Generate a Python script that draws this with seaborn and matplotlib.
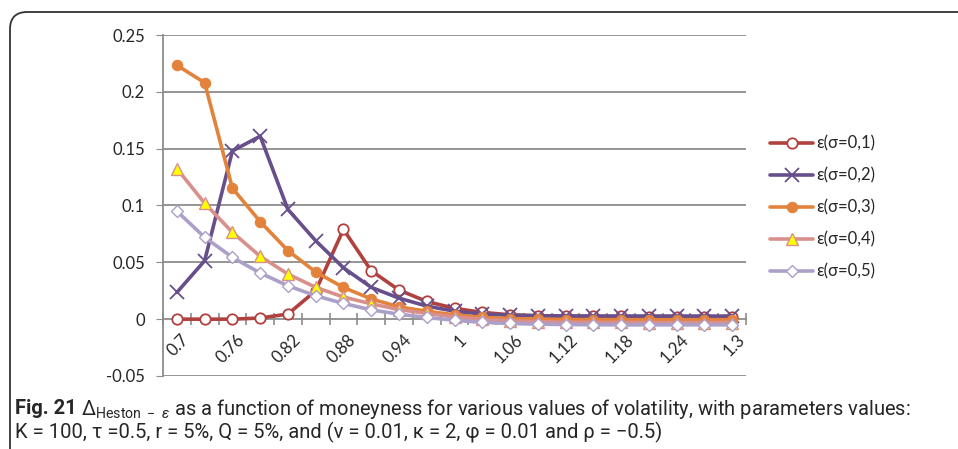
import numpy as np
import pandas as pd
import matplotlib
matplotlib.use("Agg")
import matplotlib.pyplot as plt
import matplotlib.transforms as mtransforms
from matplotlib.patches import FancyBboxPatch
import seaborn as sns

# moneyness categories (21 points, every other one labelled)
moneyness = ["0.7", "0.73", "0.76", "0.79", "0.82", "0.85", "0.88", "0.91", "0.94", "0.97", "1",
             "1.03", "1.06", "1.09", "1.12", "1.15", "1.18", "1.21", "1.24", "1.27", "1.3"]

eps_s01 = [0.0, 0.0, 0.0, 0.001, 0.0045, 0.025, 0.079, 0.0426, 0.0256, 0.0156, 0.0095,
           0.006, 0.0038, 0.003, 0.0027, 0.0025, 0.0024, 0.0023, 0.0023, 0.0022, 0.0022]
eps_s02 = [0.0235, 0.0514, 0.148, 0.161, 0.0965, 0.069, 0.0452, 0.028, 0.0185, 0.0115, 0.007,
           0.0045, 0.0035, 0.003, 0.0028, 0.0027, 0.0027, 0.0027, 0.0027, 0.0027, 0.0027]
eps_s03 = [0.2234, 0.208, 0.1152, 0.0858, 0.0603, 0.0415, 0.0279, 0.0178, 0.0108, 0.007, 0.0038,
           0.0015, 0.0005, 0.0, -0.0003, -0.0004, -0.0005, -0.0005, -0.0005, -0.0005, -0.0005]
eps_s04 = [0.1325, 0.102, 0.0764, 0.0553, 0.0397, 0.028, 0.0195, 0.0135, 0.0085, 0.005, 0.002,
           -0.0002, -0.0015, -0.0022, -0.0026, -0.0028, -0.0029, -0.003, -0.003, -0.003, -0.003]
eps_s05 = [0.095, 0.072, 0.0544, 0.0406, 0.0294, 0.0206, 0.0138, 0.0082, 0.0044, 0.0015, -0.001,
           -0.0028, -0.0038, -0.0044, -0.0047, -0.0049, -0.005, -0.005, -0.005, -0.005, -0.005]

series_names = ["ε(σ=0,1)", "ε(σ=0,2)", "ε(σ=0,3)", "ε(σ=0,4)", "ε(σ=0,5)"]
ytick_vals = [-0.05, 0, 0.05, 0.1, 0.15, 0.2, 0.25]
ytick_labels = ["-0.05", "0", "0.05", "0.1", "0.15", "0.2", "0.25"]

sns.set_style("white")
plt.rcParams["font.family"] = ["Lato", "DejaVu Sans"]

fig = plt.figure(figsize=(9.58, 4.49), dpi=100)
ax = fig.add_axes([163 / 958, 1 - 376 / 449, (746 - 163) / 958, (376 - 35) / 449])

idx = np.arange(len(moneyness))
styles = [
    dict(color="#B0413E", marker="o", markerfacecolor="white", markeredgecolor="#B0413E",
         markersize=7.5, markeredgewidth=1.3),
    dict(color="#674F8C", marker="x", markeredgecolor="#674F8C", markersize=10, markeredgewidth=1.3),
    dict(color="#E3823A", marker="o", markerfacecolor="#E3823A", markeredgecolor="#E3823A",
         markersize=7.5),
    dict(color="#D9908C", marker="^", markerfacecolor="#FFFF00", markeredgecolor="#D9908C",
         markersize=8.5, markeredgewidth=1.0),
    dict(color="#ADA0C8", marker="D", markerfacecolor="white", markeredgecolor="#ADA0C8",
         markersize=6, markeredgewidth=1.0),
]
all_series = [eps_s01, eps_s02, eps_s03, eps_s04, eps_s05]
for name, vals, st in zip(series_names, all_series, styles):
    sns.lineplot(x=idx, y=vals, ax=ax, label=name, linewidth=2.6, **st)

ax.set_xlim(-0.5, len(moneyness) - 0.5)
ax.set_ylim(-0.05, 0.25)
ax.set_yticks(ytick_vals)
ax.set_yticklabels(ytick_labels, fontsize=12)
for v in ytick_vals:
    if v != 0:
        ax.axhline(v, color="#8C8C8C", lw=1.3, zorder=0)

for s in ["top", "right"]:
    ax.spines[s].set_visible(False)
ax.spines["left"].set_color("#8C8C8C")
ax.spines["left"].set_linewidth(1.3)
ax.spines["bottom"].set_position(("data", 0))
ax.spines["bottom"].set_color("#8C8C8C")
ax.spines["bottom"].set_linewidth(1.3)
ax.spines["bottom"].set_zorder(0.5)
ax.tick_params(axis="y", direction="out", length=5, color="#8C8C8C", pad=8, left=True)

ax.set_xticks(idx[::2])
ax.set_xticklabels(moneyness[::2], fontsize=12, rotation=45, ha="right", va="top",
                   rotation_mode="anchor")
ax.set_xticks(np.arange(-0.5, len(moneyness), 1), minor=True)
ax.tick_params(axis="x", which="major", length=0, pad=9, bottom=True)
ax.tick_params(axis="x", which="minor", direction="inout", length=8, color="#8C8C8C",
               width=1.2, bottom=True)
offset = mtransforms.ScaledTranslation(3 / 72, 0, fig.dpi_scale_trans)
for lab in ax.get_xticklabels():
    lab.set_transform(lab.get_transform() + offset)
ax.set_xlabel("")
ax.set_ylabel("")

leg = ax.legend(loc="upper left", bbox_to_anchor=(1.03, 0.724), frameon=False, fontsize=12,
                handlelength=2.6, handletextpad=0.15, labelspacing=0.95, borderaxespad=0)

# figure frame (rounded top-left corner)
frame = FancyBboxPatch((10 / 958, -0.2), 1.2, 1.2 - 12 / 449,
                       boxstyle="round,pad=0,rounding_size=0.018",
                       transform=fig.transFigure, facecolor="none", edgecolor="#333333",
                       lw=1.3, mutation_aspect=958 / 449)
fig.patches.append(frame)

capfam = ["Roboto", "DejaVu Sans"]
plt.rcParams["mathtext.fontset"] = "custom"
plt.rcParams["mathtext.rm"] = "Roboto"
plt.rcParams["mathtext.it"] = "Roboto:italic"
t1 = fig.text(15 / 958, 1 - 409 / 449, "Fig. 21", fontsize=14.5, fontweight="bold",
              family=capfam, va="center", ha="left")
ax.annotate(r"$\Delta_{\mathrm{Heston\ -\ }\mathit{\varepsilon}}$ as a function of moneyness for "
            "various values of volatility, with parameters values:",
            xy=(1, 0.5), xycoords=t1, xytext=(3, 0), textcoords="offset points",
            fontsize=14.5, family=capfam, va="center", ha="left", annotation_clip=False)
fig.text(15 / 958, 1 - 432 / 449,
         "K = 100, τ =0.5, r = 5%, Q = 5%, and (v = 0.01, κ = 2, φ = 0.01 and ρ = −0.5)",
         fontsize=14.5, family=capfam, va="center", ha="left")

fig.savefig("out.png", dpi=100)
